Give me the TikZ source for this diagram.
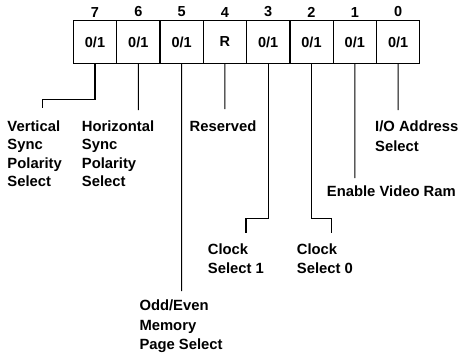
\documentclass[tikz,border=0pt]{standalone}
\usepackage{fontspec}
\setmainfont{Liberation Sans}
\usepackage{tikz}
\usetikzlibrary{positioning}
\tikzstyle{bitcell} = [rectangle, minimum width=43.3pt, minimum height=42.6pt, inner sep=0pt, outer sep=0pt, line width=1.3pt, draw=black, font=\bfseries\fontsize{14.5}{17}\selectfont]
\tikzstyle{bitnum} = [inner sep=0pt, font=\bfseries\fontsize{14.5}{17}\selectfont]
\tikzstyle{desc} = [anchor=north west, inner sep=0pt, align=left, font=\bfseries\fontsize{14.8}{19.5}\selectfont]
\tikzstyle{lead} = [line width=1.1pt]

\begin{document}
\begin{tikzpicture}[x=1pt, y=-1pt]
\useasboundingbox (0,0) rectangle (475,364);

% Cells
\node (c7) [bitcell] at (95,42) {0/1};
\node (c6) [bitcell, right=0pt of c7] {0/1};
\node (c5) [bitcell, right=0pt of c6] {0/1};
\node (c4) [bitcell, right=0pt of c5] {R};
\node (c3) [bitcell, right=0pt of c4] {0/1};
\node (c2) [bitcell, right=0pt of c3] {0/1};
\node (c1) [bitcell, right=0pt of c2] {0/1};
\node (c0) [bitcell, right=0pt of c1] {0/1};

% Bit numbers
\foreach \b in {0,...,7}
  \node (n\b) [bitnum, above=3.4pt of c\b] {\b};

% Labels
\node (vsync) [desc, font=\bfseries\fontsize{14.8}{18.2}\selectfont] at (7.3,120.7) {Vertical\\Sync\\Polarity\\Select};
\node (hsync) [desc, font=\bfseries\fontsize{14.8}{18.2}\selectfont] at (81.7,120.7) {Horizontal\\Sync\\Polarity\\Select};
\node (resv) [desc] at (189.5,120.7) {Reserved};
\node (ioaddr) [desc] at (375,121) {I/O Address\\Select};
\node (vram) [desc] at (326.7,186) {Enable Video Ram};
\node (clk1) [desc] at (207.7,243.3) {Clock\\Select 1};
\node (clk0) [desc] at (296.7,243.3) {Clock\\Select 0};
\node (oddeven) [desc] at (139.3,300) {Odd/Even\\Memory\\Page Select};

% Line ends
\coordinate (e7) at (42.7,108.3);
\coordinate (e6) at (138.3,110);
\coordinate (e5) at (181.6,291);
\coordinate (e4) at (224.9,109);
\coordinate (e3) at (246,232.7);
\coordinate (e2) at (331.7,232.7);
\coordinate (e1) at (354.8,178);
\coordinate (e0) at (398.1,110);

% Lines
\draw [lead] (c7.south) -- ++(0,36) -| (e7);
\draw [lead] (c6.south) -- (e6);
\draw [lead] (c5.south) -- (e5);
\draw [lead] (c4.south) -- (e4);
\draw [lead] (c3.south) -- ++(0,155) -| (e3);
\draw [lead] (c2.south) -- ++(0,155) -| (e2);
\draw [lead] (c1.south) -- (e1);
\draw [lead] (c0.south) -- (e0);

\end{tikzpicture}
\end{document}
